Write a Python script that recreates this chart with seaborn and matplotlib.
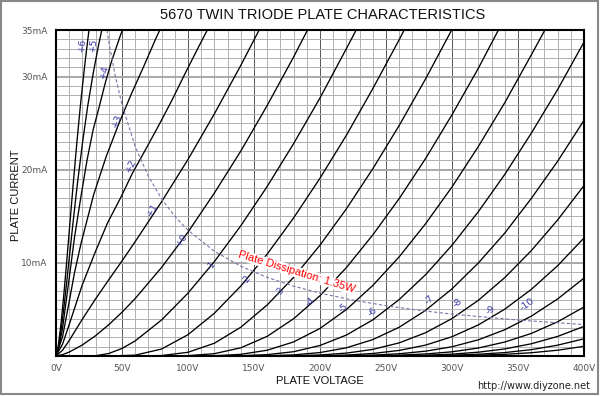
import numpy as np
import pandas as pd
import matplotlib
matplotlib.use("Agg")
import matplotlib.pyplot as plt
from matplotlib.patches import Rectangle
import seaborn as sns

sns.set_style("white")
plt.rcParams["font.family"] = ["Liberation Sans", "DejaVu Sans"]

# ---- courbes Ia = f(Va) pour chaque tension de grille ----
grid_labels = ["+6", "+5", "+4", "+3", "+2", "+1", "+0", "-1", "-2",
               "-3", "-4", "-5", "-6", "-7", "-8", "-9", "-10"]
# courbes basses sans etiquette
extra_grids = ["-11", "-12", "-13", "-14"]

va_p6 = [0, 1, 2, 4, 6, 8, 10, 13, 16, 19, 22, 25, 26]
ia_p6 = [0, 0.47, 1.34, 3.72, 6.67, 9.94, 13.3, 18.4, 23.2, 27.6, 31.5, 35.0, 36.1]
va_p5 = [0, 2, 4, 6, 8, 10, 13, 16, 20, 24, 28, 32, 35]
ia_p5 = [0, 1.04, 2.91, 5.22, 7.78, 10.44, 14.43, 18.22, 22.8, 26.8, 30.2, 33.2, 35.2]
va_p4 = [0, 2, 5, 9.5, 14, 19, 23.5, 28, 33, 37.5, 42, 49, 51]
ia_p4 = [0, 0.78, 3.0, 7.8, 12.7, 17.2, 21.0, 24.2, 26.9, 29.4, 31.6, 34.5, 35.2]
va_p3 = [0, 5, 9.5, 14, 19, 28.5, 38, 47.5, 57, 66.5, 76, 79]
ia_p3 = [0, 2.08, 5.44, 8.92, 12.1, 17.3, 21.4, 24.9, 28.1, 31.1, 34.2, 35.1]
va_p2 = [0, 5, 10, 20, 30, 39, 49, 58, 68, 78, 88, 97, 107, 115]
ia_p2 = [0, 1.28, 3.37, 7.67, 11.25, 14.27, 17.0, 19.65, 22.2, 24.8, 27.5, 30.1, 32.9, 35.1]
va_p1 = [0, 5, 10, 20, 30, 40, 50, 60, 80, 100, 120, 140, 155]
ia_p1 = [0, 0.62, 1.66, 3.96, 6.13, 8.19, 10.2, 12.28, 16.56, 21.1, 26.0, 31.2, 35.3]
va_0 = [0, 5, 10, 20, 30, 40, 50, 60, 80, 100, 120, 140, 160, 180, 192]
ia_0 = [0, 0.15, 0.42, 1.19, 2.18, 3.36, 4.70, 6.17, 9.51, 13.3, 17.5, 22.0, 26.9, 32.1, 35.4]
va_m1 = [0, 20, 30, 40, 50, 60, 80, 100, 120, 140, 160, 180, 200, 220, 230]
ia_m1 = [0, 0.0, 0.03, 0.27, 0.81, 1.62, 3.87, 6.75, 10.14, 13.98, 18.2, 22.8, 27.7, 33.0, 35.7]
va_m2 = [0, 40, 60, 80, 100, 120, 140, 160, 180, 200, 220, 240, 260, 270]
ia_m2 = [0, 0.0, 0.09, 0.75, 2.29, 4.59, 7.51, 10.94, 14.82, 19.09, 23.7, 28.7, 33.96, 36.7]
va_m3 = [0, 60, 80, 100, 120, 140, 160, 180, 200, 220, 240, 260, 280, 300]
ia_m3 = [0, 0.0, 0.05, 0.40, 1.37, 3.09, 5.48, 8.44, 11.9, 15.8, 20.1, 24.75, 29.75, 35.06]
va_m4 = [0, 80, 100, 120, 140, 160, 180, 200, 220, 240, 260, 280, 300, 320, 340]
ia_m4 = [0, 0.0, 0.04, 0.25, 0.88, 2.11, 4.0, 6.47, 9.49, 13.0, 16.9, 21.2, 25.9, 30.9, 36.3]
va_m5 = [0, 100, 120, 140, 160, 180, 200, 220, 240, 260, 280, 300, 320, 340, 360, 375]
ia_m5 = [0, 0.0, 0.03, 0.18, 0.62, 1.51, 2.96, 4.99, 7.57, 10.65, 14.2, 18.15, 22.5, 27.2, 32.3, 36.2]
va_m6 = [0, 120, 140, 160, 180, 200, 220, 240, 260, 280, 300, 320, 340, 360, 380, 400]
ia_m6 = [0, 0.0, 0.03, 0.15, 0.46, 1.13, 2.25, 3.88, 6.06, 8.73, 11.89, 15.5, 19.5, 23.9, 28.6, 33.7]
va_m7 = [0, 140, 160, 180, 200, 220, 240, 260, 280, 300, 320, 340, 360, 380, 400]
ia_m7 = [0, 0.0, 0.03, 0.12, 0.37, 0.88, 1.76, 3.09, 4.9, 7.21, 9.99, 13.2, 16.9, 20.9, 25.3]
va_m8 = [0, 160, 180, 200, 220, 240, 260, 280, 300, 320, 340, 360, 380, 400]
ia_m8 = [0, 0.0, 0.03, 0.11, 0.31, 0.71, 1.41, 2.5, 4.02, 5.98, 8.42, 11.3, 14.6, 18.3]
va_m9 = [0, 180, 200, 220, 240, 260, 280, 300, 320, 340, 360, 380, 400]
ia_m9 = [0, 0.0, 0.03, 0.10, 0.27, 0.60, 1.17, 2.07, 3.34, 5.03, 7.14, 9.69, 12.67]
va_m10 = [0, 200, 220, 240, 260, 280, 300, 320, 340, 360, 380, 400]
ia_m10 = [0, 0.0, 0.03, 0.095, 0.24, 0.52, 0.99, 1.74, 2.82, 4.27, 6.12, 8.36]
va_m11 = [0, 220, 240, 260, 280, 300, 320, 340, 360, 380, 400]
ia_m11 = [0, 0.0, 0.033, 0.09, 0.22, 0.45, 0.86, 1.50, 2.42, 3.67, 5.26]
va_m12 = [0, 240, 260, 280, 300, 320, 340, 360, 380, 400]
ia_m12 = [0, 0.0, 0.034, 0.088, 0.20, 0.41, 0.76, 1.31, 2.10, 3.18]
va_m13 = [0, 260, 280, 300, 320, 340, 360, 380, 400]
ia_m13 = [0, 0.0, 0.035, 0.087, 0.19, 0.37, 0.68, 1.16, 1.85]
va_m14 = [0, 280, 300, 320, 340, 360, 380, 400]
ia_m14 = [0, 0.0, 0.037, 0.086, 0.18, 0.35, 0.62, 1.04]

curves_v = [va_p6, va_p5, va_p4, va_p3, va_p2, va_p1, va_0, va_m1, va_m2,
            va_m3, va_m4, va_m5, va_m6, va_m7, va_m8, va_m9, va_m10,
            va_m11, va_m12, va_m13, va_m14]
curves_i = [ia_p6, ia_p5, ia_p4, ia_p3, ia_p2, ia_p1, ia_0, ia_m1, ia_m2,
            ia_m3, ia_m4, ia_m5, ia_m6, ia_m7, ia_m8, ia_m9, ia_m10,
            ia_m11, ia_m12, ia_m13, ia_m14]

# dissipation max 1.35W
diss_v = [38.6, 40, 45, 50, 60, 70, 80, 90, 100, 120, 140, 160, 180, 200,
          225, 250, 275, 300, 350, 400]
diss_i = [35.0, 33.75, 30.0, 27.0, 22.5, 19.29, 16.88, 15.0, 13.5, 11.25,
          9.64, 8.44, 7.5, 6.75, 6.0, 5.4, 4.91, 4.5, 3.86, 3.375]

# position / angle des etiquettes de grille
label_x = [19.7, 28, 36.4, 46.2, 56.8, 73.5, 95.5, 118, 144.7, 169.7,
           192.4, 217.4, 240, 283, 304.5, 329.5, 357]
label_y = [33.4, 33.4, 30.5, 25.3, 20.4, 15.7, 12.5, 9.7, 8.2, 6.9,
           5.8, 5.15, 4.7, 6.0, 5.7, 4.95, 5.5]
label_rot = [84, 83, 76, 70, 63, 58, 55, 53, 50, 47, 44, 42, 40, 42, 40, 38, 36]

x_ticks = [0, 50, 100, 150, 200, 250, 300, 350, 400]
y_ticks = [10, 20, 30, 35]

rows = []
for lab, vv, ii in zip(grid_labels + extra_grids, curves_v, curves_i):
    for v, i in zip(vv, ii):
        rows.append((lab, v, i))
df = pd.DataFrame(rows, columns=["grille", "Va", "Ia"])

fig = plt.figure(figsize=(6, 3.96), dpi=100)
ax = fig.add_axes([0.0933, 0.101, 0.88, 0.8232])

# grille
for v in range(0, 401, 10):
    if v % 50 == 0:
        ax.axvline(v, color="#555555", lw=0.7, zorder=0)
    else:
        ax.axvline(v, color="#b0b0b0", lw=0.7, zorder=0)
for i in range(1, 35):
    if i % 10 == 0:
        ax.axhline(i, color="#a8a8a8", lw=1.4, zorder=0)
    else:
        ax.axhline(i, color="#b0b0b0", lw=0.7, zorder=0)

sns.lineplot(data=df, x="Va", y="Ia", units="grille", estimator=None,
             sort=False, color="black", lw=0.95, ax=ax, zorder=3)

ax.plot(diss_v, diss_i, color="#7777aa", lw=0.8, dashes=(3, 2), zorder=4)

for lab, x, y, r in zip(grid_labels, label_x, label_y, label_rot):
    ax.text(x, y, lab, color="#3c3ca8", fontsize=6.8, rotation=r,
            ha="center", va="center", family="DejaVu Sans", zorder=5)

ax.text(182.6, 9.0, "Plate Dissipation: 1.35W", color="red", fontsize=8,
        rotation=-17, ha="center", va="center", zorder=6,
        bbox=dict(facecolor="white", edgecolor="none", pad=0.3))

ax.set_xlim(0, 400)
ax.set_ylim(0, 35)
ax.set_xticks(x_ticks)
ax.set_xticklabels([f"{v}V" for v in x_ticks])
ax.set_yticks(y_ticks)
ax.set_yticklabels([f"{v}mA" for v in y_ticks])
ax.tick_params(axis="both", labelsize=6.5, labelcolor="#555555", length=4,
               width=0.8, color="#333333", direction="out", pad=2)
for lab in ax.get_xticklabels() + ax.get_yticklabels():
    lab.set_family("DejaVu Sans")
ax.set_xlabel("")
ax.set_ylabel("")
for s in ax.spines.values():
    s.set_color("black")
    s.set_linewidth(1.5)
    s.set_zorder(7)

fig.text(0.538, 0.963, "5670 TWIN TRIODE PLATE CHARACTERISTICS",
         fontsize=10.5, ha="center", va="center", color="#111111")
fig.text(0.027, 0.508, "PLATE CURRENT", rotation=90, fontsize=8,
         ha="center", va="center", color="#111111")
fig.text(0.533, 0.038, "PLATE VOLTAGE", fontsize=8, ha="center",
         va="center", color="#111111")
fig.text(0.983, 0.025, "http://www.diyzone.net", fontsize=7, ha="right",
         va="center", color="#222222", family="DejaVu Sans")

fig.patches.append(Rectangle((0.002, 0.006), 0.994, 0.991, transform=fig.transFigure,
                             fill=False, edgecolor="#888888", lw=1.5))

fig.savefig("out.png", dpi=100, facecolor="white")
